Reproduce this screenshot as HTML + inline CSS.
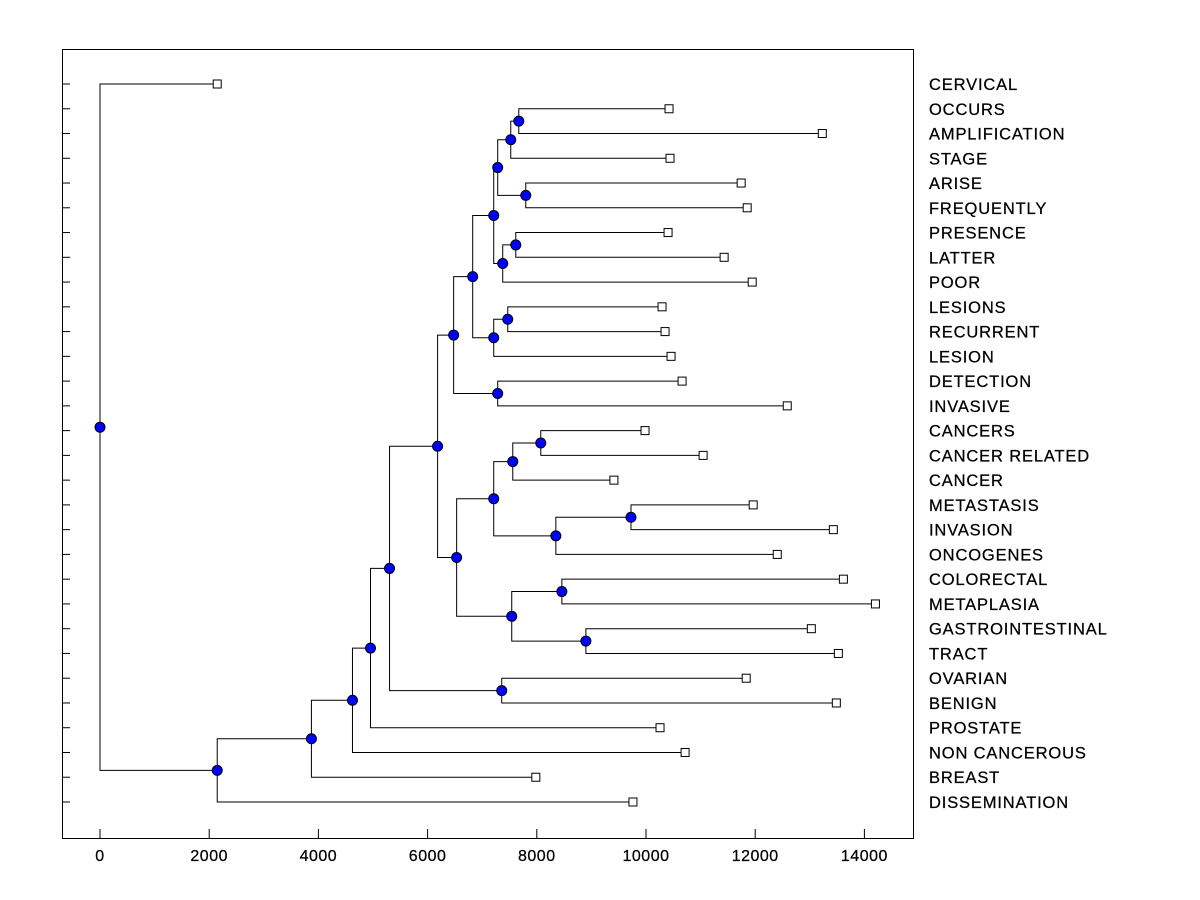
<!DOCTYPE html>
<html><head><meta charset="utf-8"><style>body{margin:0;background:#fff}svg{display:block;font-family:"Liberation Sans",Arial,sans-serif}</style></head>
<body>
<svg id="chart" width="1200" height="900" viewBox="0 0 1200 900">
<rect x="62.5" y="49.5" width="851" height="789" fill="none" stroke="#000"/>
<g id="links"></g><g id="marks"></g><g id="labels"></g><g id="ticks"></g>
</svg>
<script>
const leafNames=["CERVICAL","OCCURS","AMPLIFICATION","STAGE","ARISE","FREQUENTLY","PRESENCE","LATTER","POOR","LESIONS","RECURRENT","LESION","DETECTION","INVASIVE","CANCERS","CANCER RELATED","CANCER","METASTASIS","INVASION","ONCOGENES","COLORECTAL","METAPLASIA","GASTROINTESTINAL","TRACT","OVARIAN","BENIGN","PROSTATE","NON CANCEROUS","BREAST","DISSEMINATION"];
const leafValues=[2147,10422,13229,10440,11743,11853,10404,11431,11945,10294,10349,10459,10661,12587,9982,11046,9413,11963,13431,12404,13615,14202,13028,13523,11835,13486,10257,10716,7982,9761];
// internal nodes: [name, height, childA, childB]; children are leaf names or node names
const nodeNames=["U","S","T","P","R","Q","L","N","M","J","K","H","Z","X","AA","Y","V","BB","CC","W","I","F","G","E","D","C","B","A","root"];
const nodeHeights=[7670,7523,7798,7284,7615,7376,7211,7468,7211,6826,7284,6477,8073,7560,9725,8349,7211,8459,8899,7541,6532,6183,7358,5303,4954,4624,3872,2147,0];
const nodeChildA=["OCCURS","U","ARISE","S","PRESENCE","R","P","LESIONS","N","L","DETECTION","J","CANCERS","Z","METASTASIS","AA","X","COLORECTAL","GASTROINTESTINAL","BB","V","H","OVARIAN","F","E","D","C","B","CERVICAL"];
const nodeChildB=["AMPLIFICATION","STAGE","FREQUENTLY","T","LATTER","POOR","Q","RECURRENT","LESION","M","INVASIVE","K","CANCER RELATED","CANCER","INVASION","ONCOGENES","Y","METAPLASIA","TRACT","CC","W","I","BENIGN","G","PROSTATE","NON CANCEROUS","BREAST","DISSEMINATION","A"];
const xTicks=[0,2000,4000,6000,8000,10000,12000,14000];
const X=v=>100+v*0.0546, Y=i=>84+i*(802-84)/29;
const ns="http://www.w3.org/2000/svg";
function mk(t,a,p){const e=document.createElementNS(ns,t);for(const k in a)e.setAttribute(k,a[k]);document.getElementById(p).appendChild(e);return e;}
const pos={};
leafNames.forEach((n,i)=>{pos[n]={x:X(leafValues[i]),y:Y(i)};});
nodeNames.forEach((n,i)=>{const a=pos[nodeChildA[i]],b=pos[nodeChildB[i]];pos[n]={x:X(nodeHeights[i]),y:(a.y+b.y)/2};});
nodeNames.forEach((n,i)=>{const p=pos[n];[nodeChildA[i],nodeChildB[i]].forEach(c=>{const q=pos[c];
const l=mk('polyline',{points:`${p.x},${p.y} ${p.x},${q.y} ${q.x},${q.y}`,fill:'none',stroke:'#000','stroke-width':1},'links');

});});
nodeNames.forEach(n=>{const p=pos[n];const c=mk('circle',{cx:p.x,cy:p.y,r:5,fill:'#0000ff',stroke:'#000','stroke-width':1},'marks');

});
leafNames.forEach((n,i)=>{const p=pos[n];const s=mk('rect',{x:p.x-4,y:p.y-4,width:8,height:8,fill:'#fff',stroke:'#000'},'marks');


const t=mk('text',{x:929,y:p.y+6,'font-size':16.5,'letter-spacing':0.85,stroke:'#000','stroke-width':0.25},'labels');t.textContent=n;


const tk=mk('line',{x1:62,x2:70,y1:p.y,y2:p.y,stroke:'#000'},'ticks');

});
xTicks.forEach(v=>{const x=X(v);const l=mk('line',{x1:x,x2:x,y1:829,y2:838,stroke:'#000'},'ticks');


const t=mk('text',{x:x,y:861,'font-size':16,'text-anchor':'middle','letter-spacing':0.5,stroke:'#000','stroke-width':0.25},'ticks');t.textContent=v;

});
</script>
</body></html>
